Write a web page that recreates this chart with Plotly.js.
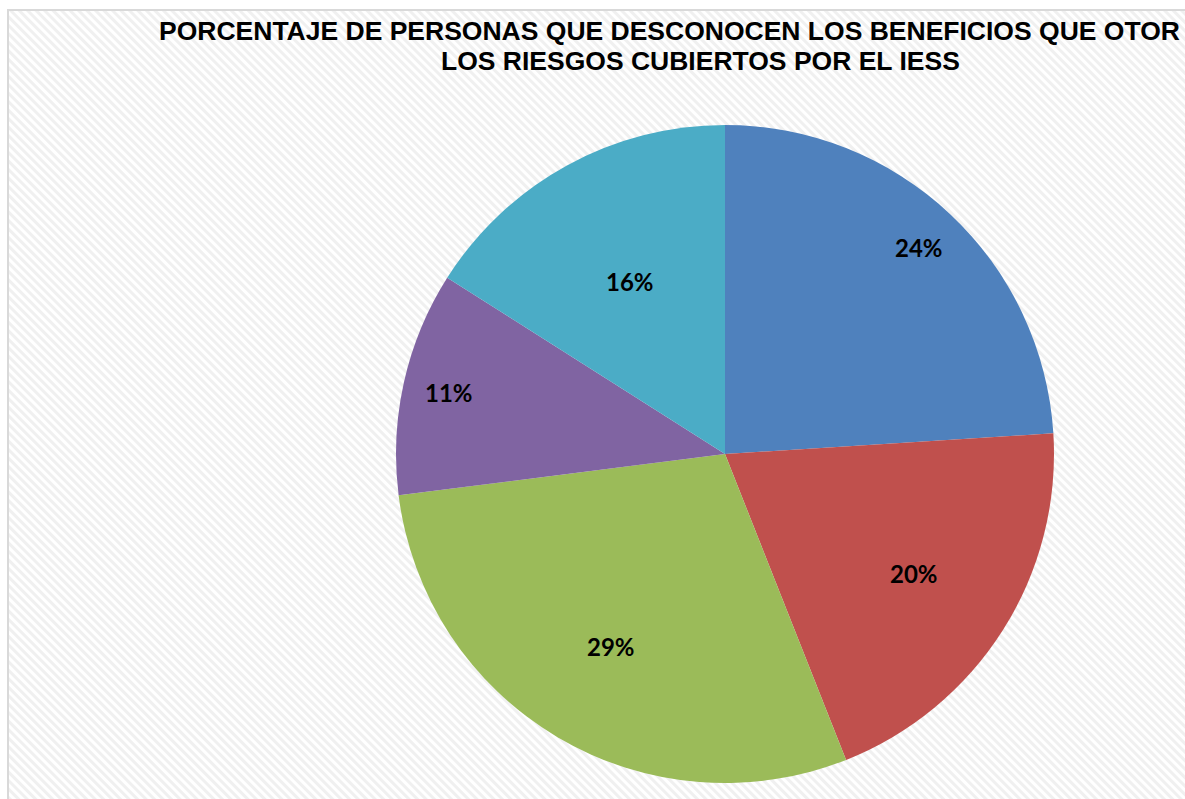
<!DOCTYPE html>
<html>
<head>
<meta charset="utf-8">
<script src="https://cdn.plot.ly/plotly-3.0.1.min.js"></script>
<style>
html,body{margin:0;padding:0;background:#fff;}
#chart{width:1185px;height:799px;}
</style>
</head>
<body>
<div id="chart"></div>
<script>
// Data
const categories = ["Riesgo 1", "Riesgo 2", "Riesgo 3", "Riesgo 4", "Riesgo 5"];
const values = [24, 20, 29, 11, 16];
const colors = ["#4F81BD", "#C0504D", "#9BBB59", "#8064A2", "#4BACC6"];
const titleLine1 = "PORCENTAJE DE PERSONAS QUE DESCONOCEN LOS BENEFICIOS QUE OTOR";
const titleLine2 = "LOS RIESGOS CUBIERTOS POR EL IESS";

const W = 1185, H = 799;

// striped background as svg image
const bgW = 1177, bgH = 789;
const stripeSvg = `<svg xmlns="http://www.w3.org/2000/svg" width="${bgW}" height="${bgH}">
<defs><pattern id="p" width="6" height="6" patternUnits="userSpaceOnUse" patternTransform="rotate(-45)">
<rect width="6" height="6" fill="#ffffff"/><rect width="3" height="6" fill="#f0f0f0"/></pattern></defs>
<rect width="${bgW}" height="${bgH}" fill="url(#p)"/></svg>`;
const stripeUri = "data:image/svg+xml;base64," + btoa(stripeSvg);

const cx = 725, cy = 454, R = 329;
// Excel-like "best fit" label distance from centre, as fraction of radius
const labelDist = [0.86, 0.68, 0.68, 0.86, 0.60];

const trace = {
  type: "pie",
  labels: categories,
  values: values,
  sort: false,
  direction: "clockwise",
  rotation: 0,
  marker: {colors: colors, line: {width: 0}},
  textinfo: "none",
  hoverinfo: "label+percent",
  domain: {
    x: [(cx - R) / W, (cx + R) / W],
    y: [1 - (cy + R) / H, 1 - (cy - R) / H]
  },
  showlegend: false
};

// percentage labels placed at slice mid-angles computed from the data
const total = values.reduce((a, b) => a + b, 0);
const labelAnns = [];
let cum = 0;
values.forEach((v, i) => {
  const mid = (cum + v / 2) / total * 2 * Math.PI;
  cum += v;
  const px = cx + Math.sin(mid) * R * labelDist[i];
  const py = cy - Math.cos(mid) * R * labelDist[i];
  labelAnns.push({
    text: "<b>" + Math.round(v / total * 100) + "%</b>",
    xref: "paper", yref: "paper", x: px / W, y: 1 - py / H,
    xanchor: "center", yanchor: "middle", showarrow: false,
    font: {family: "Lato, 'Open Sans', sans-serif", size: 24, color: "#000"}
  });
});

const layout = {
  width: W, height: H,
  margin: {l: 0, r: 0, t: 0, b: 0},
  paper_bgcolor: "#ffffff",
  showlegend: false,
  images: [{
    source: stripeUri, xref: "paper", yref: "paper",
    x: 8 / W, y: 1 - 10 / H, sizex: bgW / W, sizey: bgH / H,
    xanchor: "left", yanchor: "top", sizing: "stretch", layer: "below"
  }],
  shapes: [{
    type: "rect", xref: "paper", yref: "paper",
    x0: 8 / W, x1: 1.01, y0: -0.01, y1: 1 - 10 / H,
    line: {color: "#d9d9d9", width: 2}, fillcolor: "rgba(0,0,0,0)", layer: "below"
  }],
  annotations: [
    {text: "<b>" + titleLine1 + "</b>", xref: "paper", yref: "paper",
     x: 157 / W, y: 1 - 31 / H, xanchor: "left", yanchor: "middle", showarrow: false,
     font: {family: "'Liberation Sans', Arial, sans-serif", size: 26.5, color: "#000"}},
    {text: "<b>" + titleLine2 + "</b>", xref: "paper", yref: "paper",
     x: 700 / W, y: 1 - 61 / H, xanchor: "center", yanchor: "middle", showarrow: false,
     font: {family: "'Liberation Sans', Arial, sans-serif", size: 26.5, color: "#000"}}
  ].concat(labelAnns)
};

Plotly.newPlot("chart", [trace], layout, {displayModeBar: false, staticPlot: true});
</script>
</body>
</html>
